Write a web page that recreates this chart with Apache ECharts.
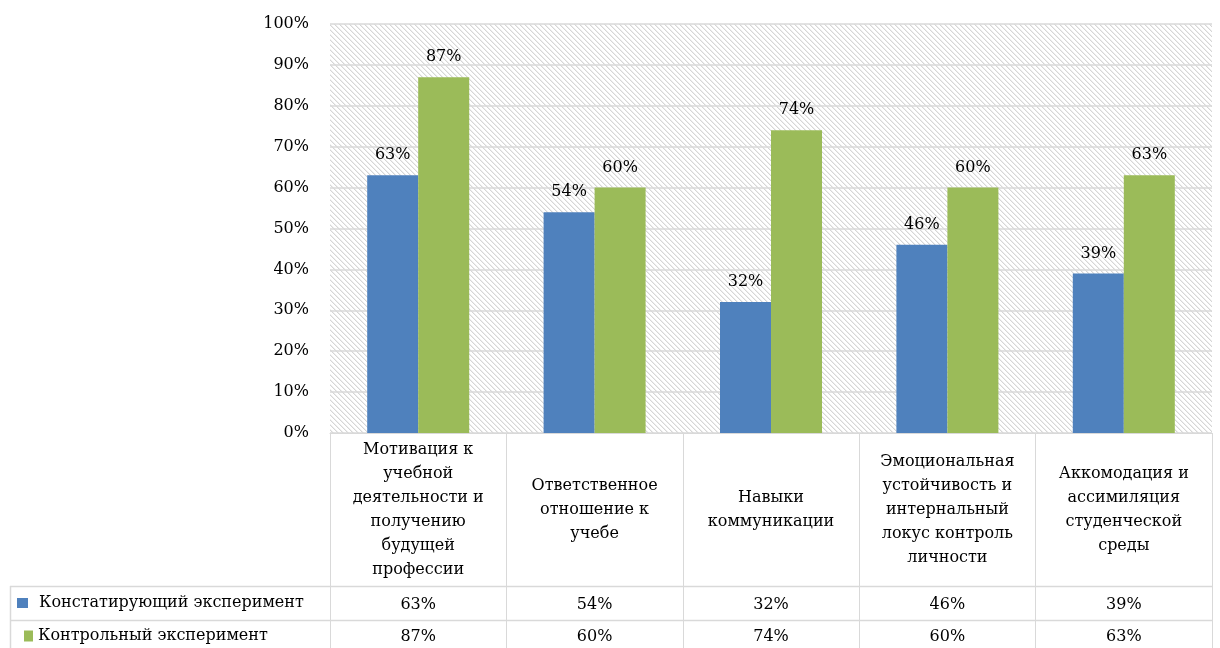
<!DOCTYPE html>
<html>
<head>
<meta charset="utf-8">
<script src="https://cdn.jsdelivr.net/npm/echarts@6/dist/echarts.min.js"></script>
<style>
  html, body { margin: 0; padding: 0; background: #fff; }
  #main { width: 1220px; height: 648px; }
</style>
</head>
<body>
<div id="main"></div>
<script>
const categories = [
  'Мотивация к\nучебной\nдеятельности и\nполучению\nбудущей\nпрофессии',
  'Ответственное\nотношение к\nучебе',
  'Навыки\nкоммуникации',
  'Эмоциональная\nустойчивость и\nинтернальный\nлокус контроль\nличности',
  'Аккомодация и\nассимиляция\nстуденческой\nсреды'
];
const seriesNames = ['Констатирующий эксперимент', 'Контрольный эксперимент'];
const ascertaining = [63, 54, 32, 46, 39];
const control = [87, 60, 74, 60, 63];
const yTicks = [0, 10, 20, 30, 40, 50, 60, 70, 80, 90, 100];

const FONT = '"DejaVu Serif", "Liberation Serif", serif';
const FS = 16;
const LINE = '#d9d9d9';

// light diagonal hatch for the plot area
const T = 5;
const tile = document.createElement('canvas');
tile.width = T;
tile.height = T;
const tctx = tile.getContext('2d');
tctx.fillStyle = '#ffffff';
tctx.fillRect(0, 0, T, T);
for (let i = 0; i < T; i++) {
  tctx.fillStyle = '#d6d6d6';
  tctx.fillRect(i, i, 1, 1);
  tctx.fillStyle = '#eeeeee';
  tctx.fillRect((i + 1) % T, i, 1, 1);
}

const chart = echarts.init(document.getElementById('main'));

const pct = (v) => v + '%';

const legendText = (pad) => ({
  fontFamily: FONT, fontSize: FS, color: '#000', lineHeight: 20, padding: [0, 0, 0, pad]
});

const option = {
  animation: false,
  textStyle: { fontFamily: FONT },
  grid: {
    left: 330, right: 8, top: 24, height: 409,
    show: true,
    borderWidth: 0,
    backgroundColor: { image: tile, repeat: 'repeat' }
  },
  legend: [
    {
      left: 17, top: 593, padding: 0,
      itemWidth: 11, itemHeight: 10, icon: 'rect',
      textStyle: legendText(6),
      data: [seriesNames[0]]
    },
    {
      left: 24, top: 626, padding: 0,
      itemWidth: 9, itemHeight: 11, icon: 'rect',
      textStyle: legendText(0),
      data: [seriesNames[1]]
    }
  ],
  xAxis: [
    {
      type: 'category',
      data: categories,
      axisLine: { show: true, lineStyle: { color: LINE, width: 1 } },
      axisTick: { show: true, length: 215, interval: 0, lineStyle: { color: LINE, width: 1 } },
      axisLabel: {
        interval: 0,
        margin: 77,
        verticalAlign: 'middle',
        fontFamily: FONT,
        fontSize: FS,
        lineHeight: 24,
        color: '#000'
      }
    },
    {
      type: 'category',
      position: 'bottom',
      data: ascertaining.map(pct),
      axisLine: { show: false },
      axisTick: { show: false },
      axisLabel: { interval: 0, margin: 172, verticalAlign: 'middle', fontFamily: FONT, fontSize: FS, color: '#000' }
    },
    {
      type: 'category',
      position: 'bottom',
      data: control.map(pct),
      axisLine: { show: false },
      axisTick: { show: false },
      axisLabel: { interval: 0, margin: 204, verticalAlign: 'middle', fontFamily: FONT, fontSize: FS, color: '#000' }
    }
  ],
  yAxis: {
    type: 'value',
    min: yTicks[0],
    max: yTicks[yTicks.length - 1],
    interval: 10,
    axisLine: { show: false },
    axisTick: { show: false },
    splitLine: { lineStyle: { color: LINE, width: 1.5 } },
    axisLabel: {
      margin: 21,
      fontFamily: FONT,
      fontSize: FS,
      color: '#000',
      formatter: pct
    }
  },
  series: [
    {
      name: seriesNames[0],
      type: 'bar',
      data: ascertaining,
      barWidth: 51,
      barGap: '0%',
      itemStyle: { color: '#4f81bd' },
      label: { show: true, position: 'top', distance: 12, formatter: (p) => pct(p.value), fontFamily: FONT, fontSize: FS, color: '#000' }
    },
    {
      name: seriesNames[1],
      type: 'bar',
      data: control,
      barWidth: 51,
      barGap: '0%',
      itemStyle: { color: '#9bbb59' },
      label: { show: true, position: 'top', distance: 12, formatter: (p) => pct(p.value), fontFamily: FONT, fontSize: FS, color: '#000' }
    }
  ],
  graphic: [
    { type: 'line', shape: { x1: 10, y1: 586.5, x2: 1212, y2: 586.5 }, style: { stroke: LINE, lineWidth: 1.5 } },
    { type: 'line', shape: { x1: 10, y1: 620.5, x2: 1212, y2: 620.5 }, style: { stroke: LINE, lineWidth: 1.5 } },
    { type: 'line', shape: { x1: 10.5, y1: 586, x2: 10.5, y2: 648 }, style: { stroke: LINE, lineWidth: 1.5 } }
  ]
};

chart.setOption(option);
</script>
</body>
</html>
